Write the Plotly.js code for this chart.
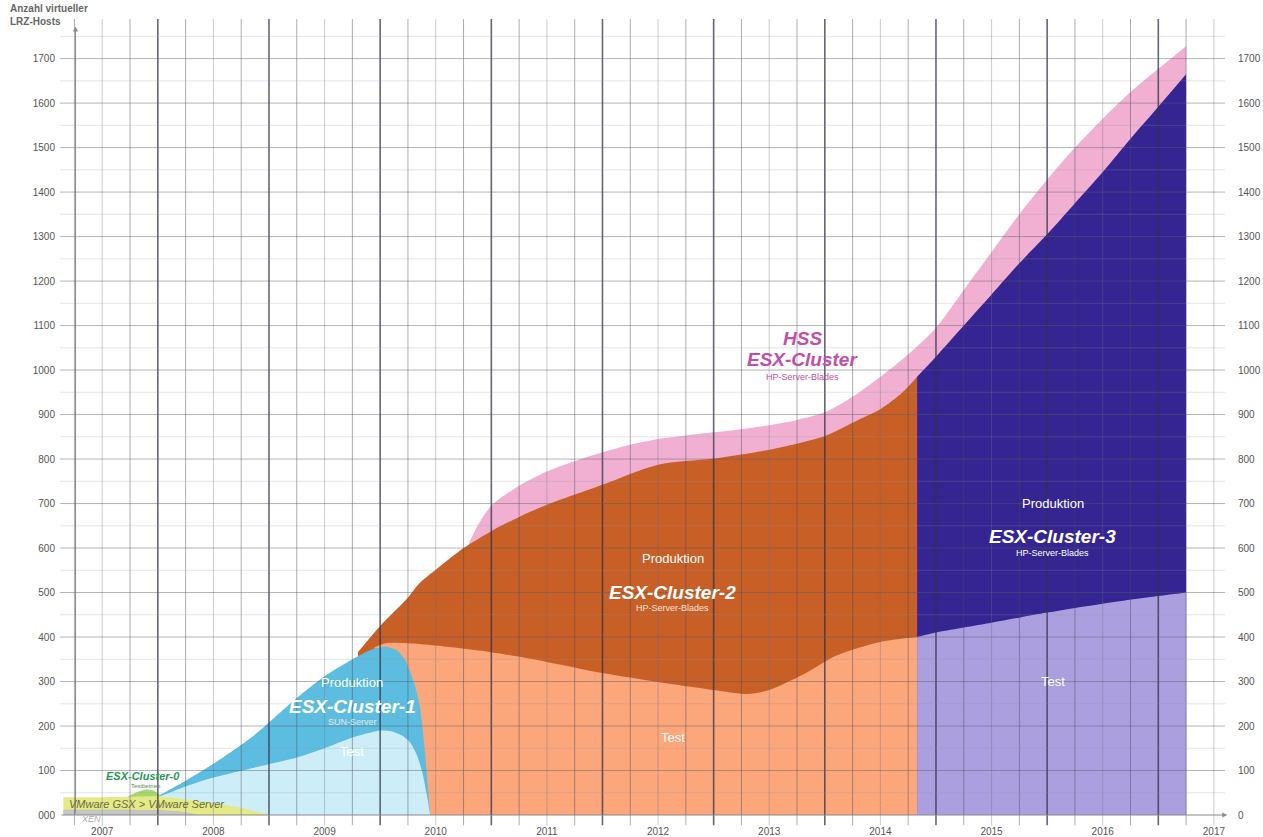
<!DOCTYPE html>
<html>
<head>
<meta charset="utf-8">
<script src="https://cdn.plot.ly/plotly-3.0.1.min.js"></script>
<style>html,body{margin:0;padding:0;background:#fff;}#chart{width:1263px;height:837px;}</style>
</head>
<body>
<div id="chart"></div>
<script>
// ---------- data (time in decimal years, values = number of virtual hosts) ----------
const yearTicks = [2007, 2008, 2009, 2010, 2011, 2012, 2013, 2014, 2015, 2016, 2017];

const hssX = [2010.3, 2010.4, 2010.5, 2010.75, 2011, 2011.25, 2011.5, 2011.75, 2012, 2012.25, 2012.5, 2012.75, 2013, 2013.25, 2013.5, 2013.75, 2014, 2014.25, 2014.5, 2014.75, 2015, 2015.25, 2015.5, 2015.75, 2016, 2016.25, 2016.5, 2016.75];
const hssY = [612, 660, 695, 740, 772, 795, 815, 832, 845, 853, 860, 867, 876, 888, 905, 940, 985, 1035, 1095, 1180, 1265, 1350, 1428, 1500, 1565, 1625, 1677, 1728];

const c2ProdX = [2009.3, 2009.5, 2009.73, 2009.85, 2010, 2010.25, 2010.5, 2010.75, 2011, 2011.5, 2012, 2012.5, 2013, 2013.5, 2013.8, 2014, 2014.2, 2014.33];
const c2ProdY = [366, 425, 483, 520, 551, 600, 638, 670, 697, 742, 787, 801, 821, 852, 888, 912, 950, 985];

const c2TestX = [2009.45, 2009.55, 2009.75, 2010, 2010.5, 2011, 2011.5, 2012, 2012.5, 2012.8, 2013, 2013.3, 2013.6, 2014, 2014.33];
const c2TestY = [377, 386, 386, 381, 366, 344, 319, 299, 281, 272, 281, 315, 358, 389, 400];

const c1ProdX = [2007.52, 2007.75, 2008, 2008.33, 2008.5, 2008.75, 2009, 2009.3, 2009.45, 2009.55, 2009.65, 2009.72, 2009.77, 2009.82, 2009.86, 2009.9, 2009.93, 2009.95];
const c1ProdY = [45, 77, 115, 172, 208, 263, 312, 357, 374, 378, 370, 350, 322, 285, 240, 150, 60, 0];

const c1TestX = [2007.52, 2007.75, 2008, 2008.33, 2008.5, 2008.75, 2009, 2009.25, 2009.5, 2009.6, 2009.7, 2009.77, 2009.83, 2009.88, 2009.92, 2009.95];
const c1TestY = [42, 64, 84, 104, 114, 129, 150, 174, 190, 188, 178, 163, 135, 95, 45, 0];

const c3ProdX = [2014.33, 2014.5, 2014.75, 2015, 2015.25, 2015.5, 2015.75, 2016, 2016.25, 2016.5, 2016.75];
const c3ProdY = [985, 1030, 1100, 1170, 1240, 1305, 1375, 1445, 1520, 1592, 1665];

const c3TestX = [2014.33, 2014.5, 2015, 2015.5, 2016, 2016.5, 2016.75];
const c3TestY = [400, 410, 432, 455, 475, 492, 500];

const c0X = [2007.22, 2007.3, 2007.38, 2007.45, 2007.52];
const c0Y = [40, 50, 57, 56, 45];

const gsxX = [2006.65, 2007, 2007.25, 2007.5, 2007.75, 2008, 2008.25, 2008.42, 2008.5];
const gsxY = [40, 40, 41, 42, 35, 27, 16, 6, 0];

const xenX = [2006.65, 2007, 2007.5, 2007.7, 2007.82, 2007.86];
const xenY = [12, 12, 11, 8, 3, 0];

const yTicks = [0, 100, 200, 300, 400, 500, 600, 700, 800, 900, 1000, 1100, 1200, 1300, 1400, 1500, 1600, 1700];
const yTickTextLeft = ['000', '100', '200', '300', '400', '500', '600', '700', '800', '900', '1000', '1100', '1200', '1300', '1400', '1500', '1600', '1700'];

// ---------- style ----------
const FONT = 'Liberation Sans, Arial, sans-serif';
function area(x, y, color, name, smooth) {
  return {
    x: x, y: y, name: name, type: 'scatter', mode: 'lines', fill: 'tozeroy',
    fillcolor: color, line: {width: 0, color: color, shape: 'spline', smoothing: smooth === undefined ? 0.8 : smooth},
    hoverinfo: 'skip', showlegend: false
  };
}

const traces = [
  area(hssX, hssY, '#f1b0d2', 'HSS ESX-Cluster'),
  area(c2ProdX, c2ProdY, '#c75f27', 'ESX-Cluster-2 Produktion'),
  area(c2TestX, c2TestY, '#fca67b', 'ESX-Cluster-2 Test'),
  area(c1ProdX, c1ProdY, '#5cbde0', 'ESX-Cluster-1 Produktion', 0.6),
  area(c1TestX, c1TestY, '#cdeef8', 'ESX-Cluster-1 Test', 0.6),
  area(c3ProdX, c3ProdY, '#342592', 'ESX-Cluster-3 Produktion'),
  area(c3TestX, c3TestY, '#ab9fe0', 'ESX-Cluster-3 Test'),
  area(c0X, c0Y, '#a6d870', 'ESX-Cluster-0'),
  area(gsxX, gsxY, '#e3ea86', 'VMware GSX > VMware Server'),
  area(xenX, xenY, '#c4c4c4', 'XEN'),
  // right-hand axis carrier
  {x: [2010], y: [0], yaxis: 'y2', type: 'scatter', mode: 'markers', marker: {opacity: 0}, hoverinfo: 'skip', showlegend: false}
];

// grid (drawn over the areas, as in the original); vertical lines also form the quarter ticks
const shapes = [];
for (let q = 2006.75; q <= 2017.001; q += 0.25) {
  const frac = Math.round((q % 1) * 100);
  let col = 'rgba(70,70,90,0.45)', w = 1;
  if (frac === 50) { col = 'rgba(50,50,75,0.75)'; w = 1.6; }
  if (frac === 0) { col = 'rgba(110,110,120,0.35)'; }
  shapes.push({type: 'line', xref: 'x', yref: 'paper', x0: q, x1: q, y0: -0.013, y1: 1.005, line: {color: col, width: w}, layer: 'above'});
}
for (let v = 50; v <= 1750; v += 50) {
  const major = v % 100 === 0;
  shapes.push({type: 'line', xref: 'paper', yref: 'y', x0: 0, x1: 1, y0: v, y1: v,
    line: {color: major ? 'rgba(90,90,100,0.45)' : 'rgba(150,150,160,0.25)', width: 1}, layer: 'above'});
}

function ann(x, y, text, size, color, extra) {
  return Object.assign({x: x, y: y, xref: 'x', yref: 'y', text: text, showarrow: false,
    font: {family: FONT, size: size, color: color}, xanchor: 'center', yanchor: 'middle'}, extra || {});
}

const annotations = [
  // axis arrows
  {x: 2017.12, y: 0, ax: 2006.62, ay: 0, xref: 'x', yref: 'y', axref: 'x', ayref: 'y', text: '', showarrow: true,
   arrowhead: 2, arrowsize: 1, arrowwidth: 1, arrowcolor: '#8a8a8a'},
  {x: 2006.76, y: 1772, ax: 2006.76, ay: 0, xref: 'x', yref: 'y', axref: 'x', ayref: 'y', text: '', showarrow: true,
   arrowhead: 2, arrowsize: 1, arrowwidth: 1, arrowcolor: '#8a8a8a'},
  // axis title
  {x: -0.045, y: 1.028, xref: 'paper', yref: 'paper', xanchor: 'left', yanchor: 'top', align: 'left', showarrow: false,
   text: '<b>Anzahl virtueller<br>LRZ-Hosts</b>', font: {family: FONT, size: 10, color: '#666'}},
  // cluster 1
  ann(2009.25, 298, 'Produktion', 13, '#ffffff'),
  ann(2009.25, 244, '<b><i>ESX-Cluster-1</i></b>', 19, '#ffffff'),
  ann(2009.25, 209, 'SUN-Server', 9, '#e6e6e6'),
  ann(2009.25, 142, 'Test', 13, '#ffffff'),
  // cluster 2
  ann(2012.13, 576, 'Produktion', 13, '#ffffff'),
  ann(2012.13, 501, '<b><i>ESX-Cluster-2</i></b>', 19, '#ffffff'),
  ann(2012.13, 465, 'HP-Server-Blades', 9, '#f4e4dc'),
  ann(2012.13, 175, 'Test', 13, '#ffffff'),
  // HSS
  ann(2013.30, 1070, '<b><i>HSS</i></b>', 19, '#c24fa7'),
  ann(2013.30, 1023, '<b><i>ESX-Cluster</i></b>', 19, '#c24fa7'),
  ann(2013.30, 985, 'HP-Server-Blades', 9, '#c24fa7'),
  // cluster 3
  ann(2015.55, 699, 'Produktion', 13, '#ffffff'),
  ann(2015.55, 625, '<b><i>ESX-Cluster-3</i></b>', 19, '#ffffff'),
  ann(2015.55, 589, 'HP-Server-Blades', 9, '#ffffff'),
  ann(2015.55, 299, 'Test', 13, '#ffffff'),
  // early clusters
  ann(2007.37, 88, '<b><i>ESX-Cluster-0</i></b>', 11, '#1f9a55'),
  ann(2007.39, 66, 'Testbetrieb', 6, '#5a8a60'),
  ann(2007.40, 24, '<i>VMware GSX &gt; VMware Server</i>', 11, '#6b6b45'),
  {x: 2006.9, y: -0.005, xref: 'x', yref: 'paper', text: '<i>XEN</i>', showarrow: false,
   font: {family: FONT, size: 9, color: '#aaaaaa'}, xanchor: 'center', yanchor: 'middle'}
];

const layout = {
  width: 1263, height: 837,
  margin: {l: 60, r: 38, t: 23, b: 22, pad: 0},
  paper_bgcolor: '#ffffff', plot_bgcolor: '#ffffff',
  font: {family: FONT, size: 10, color: '#555'},
  xaxis: {range: [2006.62, 2017.1], tickvals: yearTicks, ticks: '', showgrid: false, zeroline: false, showline: false,
    tickfont: {family: FONT, size: 10, color: '#555'}, ticklabelstandoff: 9, fixedrange: true},
  yaxis: {range: [0, 1780], tickvals: yTicks, ticktext: yTickTextLeft,
    showgrid: false, zeroline: false, showline: false, ticks: '', tickfont: {family: FONT, size: 10, color: '#555'}, ticklabelstandoff: 4},
  yaxis2: {range: [0, 1780], overlaying: 'y', side: 'right', tickvals: yTicks,
    showgrid: false, zeroline: false, showline: false, ticks: '', tickfont: {family: FONT, size: 10, color: '#555'}, ticklabelstandoff: 12},
  shapes: shapes,
  annotations: annotations,
  showlegend: false
};

Plotly.newPlot('chart', traces, layout, {displayModeBar: false, staticPlot: true});
</script>
</body>
</html>
